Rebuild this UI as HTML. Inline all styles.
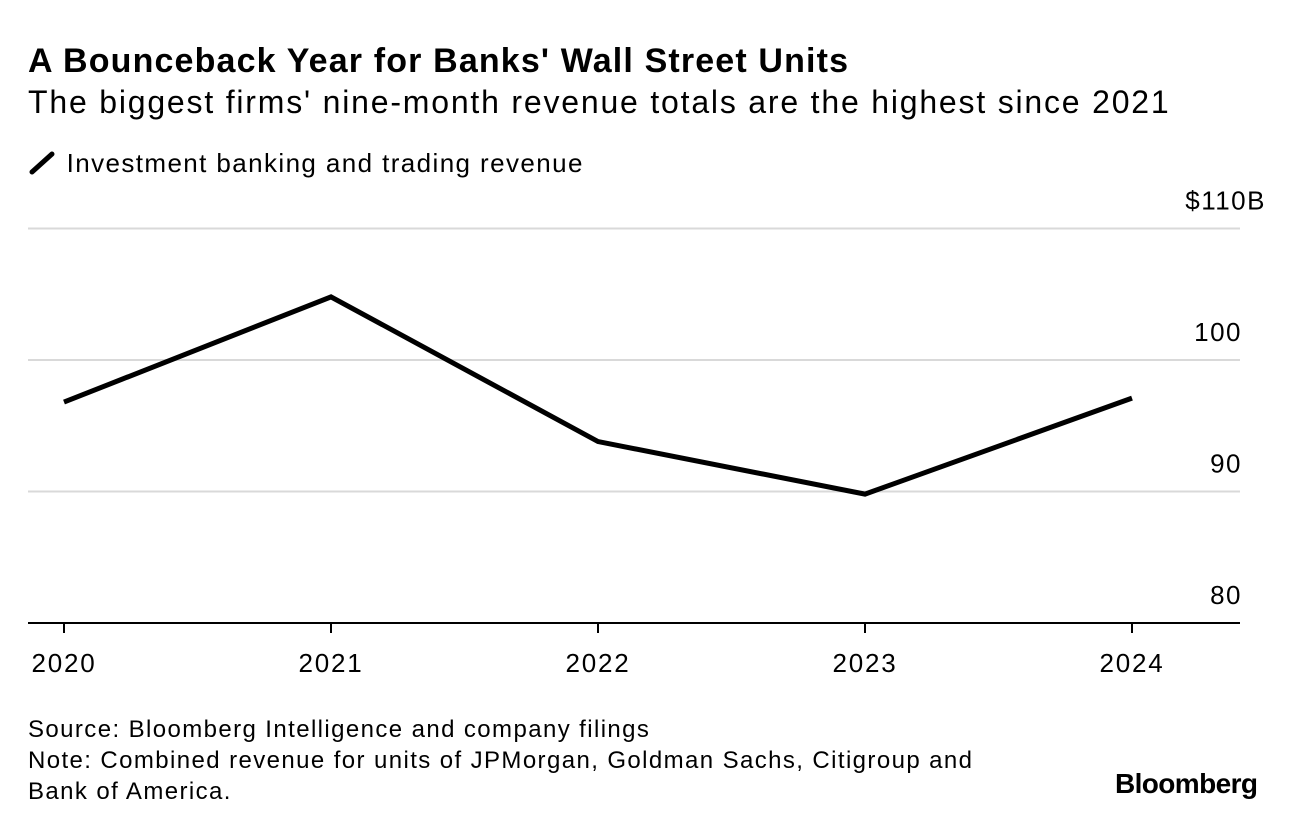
<!DOCTYPE html>
<html><head><meta charset="utf-8"><style>
body{margin:0;background:#fff;font-family:"Liberation Sans",sans-serif;color:#000;}
.wrap{position:relative;width:1296px;height:830px;overflow:hidden;}
.t{position:absolute;white-space:nowrap;}
</style></head><body>
<div class="wrap">
<div class="t" style="left:28px;top:42px;font-size:34px;font-weight:bold;letter-spacing:1.15px;">A Bounceback Year for Banks' Wall Street Units</div>
<div class="t" style="left:28px;top:84px;font-size:32px;letter-spacing:1.8px;">The biggest firms' nine-month revenue totals are the highest since 2021</div>
<div class="t" style="left:28px;top:148px;font-size:26px;letter-spacing:1.4px;"><svg width="30" height="26" style="vertical-align:-4px"><line x1="4" y1="22" x2="24" y2="4" stroke="#000" stroke-width="5" stroke-linecap="round"/></svg> Investment banking and trading revenue</div>
<svg id="chart" width="1296" height="830" style="position:absolute;left:0;top:0"></svg>
<div class="t" style="left:28px;top:714px;font-size:24px;letter-spacing:1.4px;line-height:31px;">Source: Bloomberg Intelligence and company filings<br>Note: Combined revenue for units of JPMorgan, Goldman Sachs, Citigroup and<br>Bank of America.</div>
<div class="t" style="left:1115px;top:768px;font-size:28px;font-weight:bold;letter-spacing:-0.6px;">Bloomberg</div>
</div>
<script>
const categories=["2020","2021","2022","2023","2024"];
const revenue=[96.8,104.8,93.8,89.8,97.1];
const yTicks=[80,90,100,110];
const yTickLabels=["80","90","100","$110B"];
const ns="http://www.w3.org/2000/svg";
const svg=document.getElementById('chart');
const x=i=>64+i*267;
const y=v=>623-(v-80)*13.15;
function mk(t,a){const e=document.createElementNS(ns,t);for(const k in a)e.setAttribute(k,a[k]);svg.appendChild(e);return e;}
yTicks.forEach((v,i)=>{
  if(v>80){const g=mk('line',{x1:28,x2:1240,y1:y(v),y2:y(v),stroke:'#d9d9d9','stroke-width':2});
  
  }
  const lx=(v===110)?1266:1242;
  const t=mk('text',{x:lx,y:y(v)-19,'text-anchor':'end','font-size':26,'letter-spacing':1.5,'font-family':'Liberation Sans, sans-serif'});
  t.textContent=yTickLabels[i];
  
  
});
const ax=mk('line',{x1:28,x2:1240,y1:y(80),y2:y(80),stroke:'#000','stroke-width':2});


categories.forEach((c,i)=>{
  const tk=mk('line',{x1:x(i),x2:x(i),y1:y(80),y2:y(80)+10,stroke:'#000','stroke-width':2});
  
  
  const t=mk('text',{x:x(i),y:672,'text-anchor':'middle','font-size':26,'letter-spacing':1.8,'font-family':'Liberation Sans, sans-serif'});
  t.textContent=c;
  
  
});
const p=mk('polyline',{points:revenue.map((v,i)=>x(i)+','+y(v)).join(' '),fill:'none',stroke:'#000','stroke-width':5,'stroke-linejoin':'miter'});


</script>
</body></html>
